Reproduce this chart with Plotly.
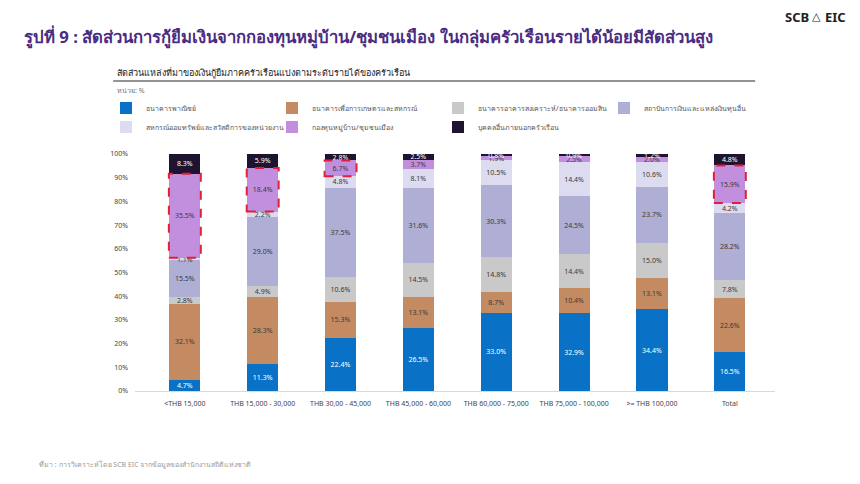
import plotly.graph_objects as go

categories = ["<THB 15,000", "THB 15,000 - 30,000", "THB 30,00 - 45,000", "THB 45,000 - 60,000",
              "THB 60,000 - 75,000", "THB 75,000 - 100,000", ">= THB 100,000", "Total"]

series_names = [
    "ธนาคารพาณิชย์",
    "ธนาคารเพื่อการเกษตรและสหกรณ์",
    "ธนาคารอาคารสงเคราะห์/ธนาคารออมสิน",
    "สถาบันการเงินและแหล่งเงินทุนอื่น",
    "สหกรณ์ออมทรัพย์และสวัสดิการของหน่วยงาน",
    "กองทุนหมู่บ้าน/ชุมชนเมือง",
    "บุคคลอื่นภายนอกครัวเรือน",
]

commercial = [4.7, 11.3, 22.4, 26.5, 33.0, 32.9, 34.4, 16.5]
baac = [32.1, 28.3, 15.3, 13.1, 8.7, 10.4, 13.1, 22.6]
ghb_gsb = [2.8, 4.9, 10.6, 14.5, 14.8, 14.4, 15.0, 7.8]
other_fin = [15.5, 29.0, 37.5, 31.6, 30.3, 24.5, 23.7, 28.2]
coop = [1.1, 2.2, 4.8, 8.1, 10.5, 14.4, 10.6, 4.2]
village_fund = [35.5, 18.4, 6.7, 3.7, 1.9, 2.5, 2.0, 15.9]
others = [8.3, 5.9, 2.8, 2.5, 0.8, 0.9, 1.2, 4.8]

highlight = ["<THB 15,000", "THB 15,000 - 30,000", "THB 30,00 - 45,000", "Total"]

values = [commercial, baac, ghb_gsb, other_fin, coop, village_fund, others]
colors = ["#0a72c6", "#c48b62", "#c9c9c9", "#afaed5", "#dddbef", "#c28fdf", "#1f1430"]
text_colors = ["white", "#3a3a3a", "#3a3a3a", "#3a3a3a", "#3a3a3a", "#3a3a3a", "white"]

FONT = "Noto Sans, DejaVu Sans, sans-serif"

fig = go.Figure()
for name, vals, col, tc in zip(series_names, values, colors, text_colors):
    fig.add_trace(go.Bar(
        name=name, x=categories, y=vals, marker=dict(color=col, line=dict(width=0)),
        text=[f"{v:.1f}%" for v in vals], textposition="inside", insidetextanchor="middle",
        constraintext="none", textfont=dict(size=7, color=tc, family=FONT),
        hoverinfo="skip",
    ))

# dashed highlight boxes around the village-fund segment
shapes = []
for cat in highlight:
    i = categories.index(cat)
    base = commercial[i] + baac[i] + ghb_gsb[i] + other_fin[i] + coop[i]
    shapes.append(dict(type="rect", xref="x", yref="y", x0=i - 0.205, x1=i + 0.205,
                       y0=base, y1=base + village_fund[i],
                       line=dict(color="#e0203a", width=2, dash="dash"), fillcolor="rgba(0,0,0,0)"))
# line under subtitle
shapes.append(dict(type="line", xref="paper", yref="paper", x0=-0.034, x1=0.969, y0=1.308, y1=1.308,
                   line=dict(color="#6f6f6f", width=1.6)))

fig.update_layout(
    width=860, height=484,
    margin=dict(l=135, r=85, t=154, b=93),
    paper_bgcolor="white", plot_bgcolor="white",
    barmode="stack", bargap=0.6,
    font=dict(family=FONT, size=8, color="#444"),
    showlegend=True,
    legend=dict(orientation="h", x=-0.0453, y=1.255, xanchor="left", yanchor="top",
                entrywidth=121, entrywidthmode="pixels", traceorder="normal",
                font=dict(size=7, color="#555"), itemwidth=30, bgcolor="rgba(0,0,0,0)"),
    xaxis=dict(range=[-0.64, 7.58], showgrid=False, showline=True, linecolor="#d9d9d9", linewidth=1,
               ticks="", tickfont=dict(size=7, color="#444"), ticklabelstandoff=6, fixedrange=True),
    yaxis=dict(range=[0, 100], dtick=10, ticksuffix="%", showgrid=False, zeroline=False,
               showline=False, tickfont=dict(size=7, color="#444"), ticklabelstandoff=6),
    shapes=shapes,
    annotations=[
        dict(text="<b>รูปที่ 9 : สัดส่วนการกู้ยืมเงินจากกองทุนหมู่บ้าน/ชุมชนเมือง ในกลุ่มครัวเรือนรายได้น้อยมีสัดส่วนสูง</b>",
             xref="paper", yref="paper", x=-0.1766, y=1.494, xanchor="left", yanchor="middle",
             showarrow=False, font=dict(size=16.7, color="#4a2c82", family=FONT)),
        dict(text="<b>SCB</b>", xref="paper", yref="paper", x=1.0555, y=1.578, xanchor="right",
             yanchor="middle", showarrow=False, font=dict(size=13, color="#222", family=FONT)),
        dict(text="△", xref="paper", yref="paper", x=1.0656, y=1.582, xanchor="center",
             yanchor="middle", showarrow=False, font=dict(size=11, color="#222", family="DejaVu Sans")),
        dict(text="<b>EIC</b>", xref="paper", yref="paper", x=1.0745, y=1.578, xanchor="left",
             yanchor="middle", showarrow=False, font=dict(size=13, color="#222", family=FONT)),
        dict(text="สัดส่วนแหล่งที่มาของเงินกู้ยืมภาคครัวเรือนแบ่งตามระดับรายได้ของครัวเรือน",
             xref="paper", yref="paper", x=-0.031, y=1.342, xanchor="left", yanchor="middle",
             showarrow=False, font=dict(size=9, color="#222", family=FONT)),
        dict(text="หน่วย: %", xref="paper", yref="paper", x=-0.031, y=1.27, xanchor="left",
             yanchor="middle", showarrow=False, font=dict(size=7, color="#777", family=FONT)),
        dict(text="ที่มา : การวิเคราะห์โดย SCB EIC จากข้อมูลของสำนักงานสถิติแห่งชาติ",
             xref="paper", yref="paper", x=-0.153, y=-0.312, xanchor="left", yanchor="middle",
             showarrow=False, font=dict(size=7, color="#999", family=FONT)),
    ],
)

fig.write_html("out.html", config={"displayModeBar": False},
               post_script="document.body.style.margin='0';")
